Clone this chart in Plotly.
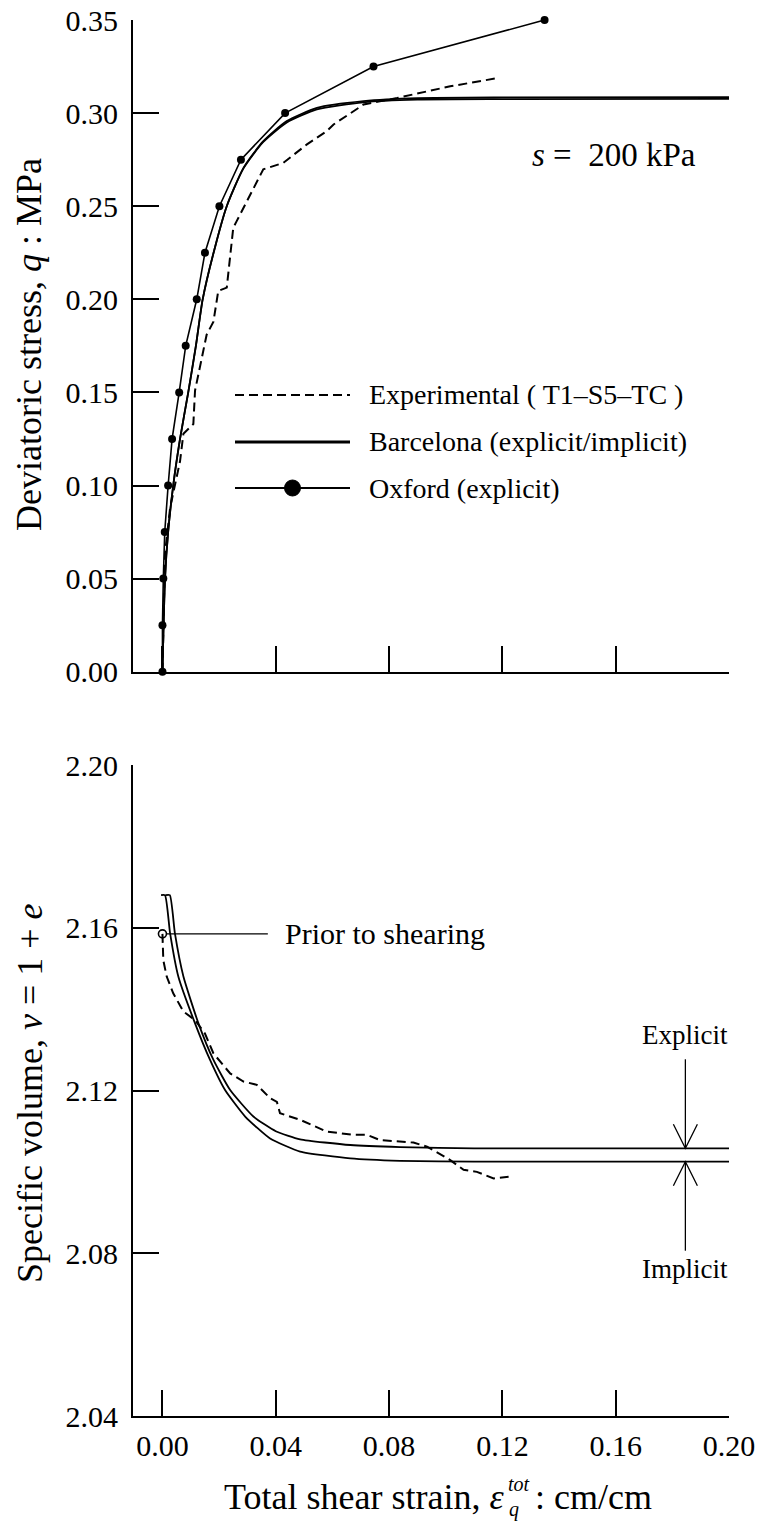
import plotly.graph_objects as go

# ---------------- data ----------------
# Top panel: deviatoric stress q (MPa) vs total shear strain
OX_X = [0.0, 0.0, 0.0003, 0.0008, 0.0020, 0.0034, 0.0059, 0.0082, 0.0121, 0.0150, 0.0201, 0.0277, 0.0433, 0.0745, 0.1349]
OX_Q = [0.0, 0.025, 0.05, 0.075, 0.10, 0.125, 0.15, 0.175, 0.20, 0.225, 0.25, 0.275, 0.30, 0.325, 0.35]

BAR_X = [0.0, 0.0009, 0.0020, 0.0038, 0.0062, 0.0091, 0.0118, 0.0142, 0.0189, 0.0227, 0.0286, 0.0356, 0.0439, 0.0545, 0.0710, 0.0900, 0.1200, 0.2000]
BAR_Q_EXPL = [0.0, 0.05, 0.075, 0.10, 0.125, 0.15, 0.175, 0.20, 0.23, 0.25, 0.2706, 0.2849, 0.2957, 0.3028, 0.3064, 0.3080, 0.3084, 0.3085]
BAR_Q_IMPL = [0.0, 0.05, 0.075, 0.10, 0.125, 0.15, 0.175, 0.20, 0.23, 0.25, 0.2703, 0.2845, 0.2950, 0.3020, 0.3058, 0.3072, 0.3075, 0.3076]

EXP_X = [0.0, 0.0009, 0.0027, 0.0062, 0.0074, 0.0109, 0.0115, 0.0133, 0.0156, 0.0180, 0.0197, 0.0227, 0.0250, 0.0262,
         0.0356, 0.0427, 0.0510, 0.0580, 0.0604, 0.0710, 0.0828, 0.1016, 0.1187]
EXP_Q = [0.0, 0.0636, 0.088, 0.113, 0.1278, 0.133, 0.151, 0.165, 0.181, 0.188, 0.2045, 0.2063, 0.2385, 0.242,
         0.2698, 0.2733, 0.2832, 0.2903, 0.2939, 0.3046, 0.3081, 0.3144, 0.3189]

# Bottom panel: specific volume v vs total shear strain
V_X_EXPL = [0.0011, 0.0026, 0.0044, 0.0074, 0.0127, 0.0180, 0.0239, 0.0321, 0.0400, 0.0486, 0.0663, 0.0839, 0.1100, 0.2000]
V_EXPL = [2.168, 2.168, 2.1586, 2.148, 2.1365, 2.1275, 2.1201, 2.1136, 2.1100, 2.1080, 2.1066, 2.1061, 2.1058, 2.1058]
V_X_IMPL = [-0.0005, 0.0009, 0.0027, 0.0056, 0.0115, 0.0168, 0.0221, 0.0292, 0.0380, 0.0486, 0.0663, 0.0839, 0.1100, 0.2000]
V_IMPL = [2.168, 2.168, 2.1586, 2.148, 2.1365, 2.1275, 2.1201, 2.1136, 2.1082, 2.1050, 2.1033, 2.1027, 2.1025, 2.1025]

V_EXP_X = [0.0, 0.0003, 0.0015, 0.0038, 0.0074, 0.0115, 0.0150, 0.0180, 0.0239, 0.0286, 0.0333, 0.0380, 0.0404,
           0.0415, 0.0486, 0.0580, 0.0674, 0.0722, 0.0769, 0.0886, 0.0934, 0.1016, 0.1063, 0.1110, 0.1169, 0.1222]
V_EXP = [2.1585, 2.152, 2.148, 2.1439, 2.1394, 2.1373, 2.134, 2.1291, 2.1242, 2.1222, 2.1214, 2.1181, 2.1172,
         2.1144, 2.1128, 2.1099, 2.1091, 2.1091, 2.1078, 2.1072, 2.1062, 2.1029, 2.1005, 2.1000, 2.0984, 2.0988]

X_TICKS = [0.00, 0.04, 0.08, 0.12, 0.16, 0.20]
Q_TICKS = [0.00, 0.05, 0.10, 0.15, 0.20, 0.25, 0.30, 0.35]
V_TICKS = [2.04, 2.08, 2.12, 2.16, 2.20]

LEGEND_NAMES = ["Experimental ( T1\u2013S5\u2013TC )", "Barcelona (explicit/implicit)", "Oxford (explicit)"]

# ---------------- layout geometry ----------------
W, H = 759, 1526
ML, MT = 133, 20
MR = W - 729
MB = H - 1416
PW, PH = W - ML - MR, H - MT - MB
X_RANGE = [-0.0104, 0.20]
Q_RANGE = [0.0, 0.35]
V_RANGE = [2.04, 2.20]
TOP_DOM = [(H - MB - 671.7) / PH, 1.0]
BOT_DOM = [0.0, (H - MB - 765) / PH]


def pxx(p):
    """screen x pixel -> paper fraction"""
    return (p - ML) / PW


def pxy(p):
    """screen y pixel -> paper fraction"""
    return (H - MB - p) / PH


XPP = (X_RANGE[1] - X_RANGE[0]) / PW                                 # data x per pixel
VPP = (V_RANGE[1] - V_RANGE[0]) / ((BOT_DOM[1] - BOT_DOM[0]) * PH)  # data v per pixel

SERIF = "Liberation Serif"
BLACK = "black"
DASH = "9px,5px"

fig = go.Figure()

# top panel traces
fig.add_trace(go.Scatter(x=EXP_X, y=EXP_Q, mode="lines", line=dict(color=BLACK, width=2, dash=DASH),
                         name=LEGEND_NAMES[0], xaxis="x", yaxis="y", showlegend=False))
fig.add_trace(go.Scatter(x=BAR_X, y=BAR_Q_EXPL, mode="lines", line=dict(color=BLACK, width=1.8, shape="spline", smoothing=0.6),
                         name="Barcelona (explicit)", xaxis="x", yaxis="y", showlegend=False))
fig.add_trace(go.Scatter(x=BAR_X, y=BAR_Q_IMPL, mode="lines", line=dict(color=BLACK, width=1.8, shape="spline", smoothing=0.6),
                         name="Barcelona (implicit)", xaxis="x", yaxis="y", showlegend=False))
fig.add_trace(go.Scatter(x=OX_X, y=OX_Q, mode="lines+markers", line=dict(color=BLACK, width=1.6),
                         marker=dict(color=BLACK, size=8), cliponaxis=False,
                         name=LEGEND_NAMES[2], xaxis="x", yaxis="y", showlegend=False))

# bottom panel traces
fig.add_trace(go.Scatter(x=V_EXP_X, y=V_EXP, mode="lines", line=dict(color=BLACK, width=2, dash=DASH),
                         name=LEGEND_NAMES[0], xaxis="x2", yaxis="y2", showlegend=False))
fig.add_trace(go.Scatter(x=V_X_EXPL, y=V_EXPL, mode="lines", line=dict(color=BLACK, width=1.8, shape="spline", smoothing=0.5),
                         name="Explicit", xaxis="x2", yaxis="y2", showlegend=False))
fig.add_trace(go.Scatter(x=V_X_IMPL, y=V_IMPL, mode="lines", line=dict(color=BLACK, width=1.8, shape="spline", smoothing=0.5),
                         name="Implicit", xaxis="x2", yaxis="y2", showlegend=False))
fig.add_trace(go.Scatter(x=V_EXP_X[:1], y=V_EXP[:1], mode="markers",
                         marker=dict(symbol="circle-open", size=8, color=BLACK, line=dict(width=1.6)),
                         cliponaxis=False, name="Prior to shearing", xaxis="x2", yaxis="y2", showlegend=False))

axis_common = dict(showline=True, linecolor=BLACK, linewidth=2, ticks="inside", ticklen=26, tickwidth=2,
                   tickcolor=BLACK, showgrid=False, zeroline=False, mirror=False, ticklabeloverflow="allow",
                   tickfont=dict(family=SERIF, size=30, color=BLACK))

shapes = []
annotations = []


def txt(text, x, y, size, xanchor="center", xref="paper", yref="paper", angle=0):
    annotations.append(dict(text=text, xref=xref, yref=yref, x=x, y=y, textangle=angle, showarrow=False,
                            xanchor=xanchor, yanchor="middle", font=dict(family=SERIF, size=size, color=BLACK)))


# ---- axis titles ----
txt("Deviatoric stress, <i>q</i> : MPa", pxx(29), pxy(345), 36, angle=-90)
txt("Specific volume, <i>\u03bd</i> = 1 + <i>e</i>", pxx(30), pxy(1093), 36, angle=-90)
# x title in pieces (stacked sub/superscript)
txt("Total shear strain, <i>\u03b5</i>", pxx(506), pxy(1497), 36, xanchor="right")
txt("<i>tot</i>", pxx(506), pxy(1484), 20, xanchor="left")
txt("<i>q</i>", pxx(507), pxy(1509), 20, xanchor="left")
txt(": cm/cm", pxx(533), pxy(1497), 36, xanchor="left")

# ---- s = 200 kPa ----
txt("<i>s</i> =  200 kPa", pxx(614), pxy(155), 33)

# ---- manual legend ----
LEG_Y = [395, 442, 488]
LEG_X0, LEG_X1, LEG_TX = 235, 350, 367
shapes.append(dict(type="line", xref="paper", yref="paper", x0=pxx(LEG_X0), x1=pxx(LEG_X1),
                   y0=pxy(LEG_Y[0]), y1=pxy(LEG_Y[0]), line=dict(color=BLACK, width=2.2, dash=DASH)))
shapes.append(dict(type="line", xref="paper", yref="paper", x0=pxx(LEG_X0), x1=pxx(LEG_X1),
                   y0=pxy(LEG_Y[1]), y1=pxy(LEG_Y[1]), line=dict(color=BLACK, width=3)))
shapes.append(dict(type="line", xref="paper", yref="paper", x0=pxx(LEG_X0), x1=pxx(LEG_X1),
                   y0=pxy(LEG_Y[2]), y1=pxy(LEG_Y[2]), line=dict(color=BLACK, width=2)))
shapes.append(dict(type="circle", xref="paper", yref="paper", xsizemode="pixel", ysizemode="pixel",
                   xanchor=pxx((LEG_X0 + LEG_X1) / 2), yanchor=pxy(LEG_Y[2]),
                   x0=-8, x1=8, y0=-8, y1=8, fillcolor=BLACK, line=dict(color=BLACK, width=1)))
for name, ly in zip(LEGEND_NAMES, LEG_Y):
    txt(name, pxx(LEG_TX), pxy(ly), 28, xanchor="left")

# ---- Prior to shearing ----
LEADER_END_X = 0.0372
shapes.append(dict(type="line", xref="x2", yref="y2", x0=V_EXP_X[0] + 4 * XPP, x1=LEADER_END_X,
                   y0=V_EXP[0], y1=V_EXP[0], line=dict(color=BLACK, width=1.3)))
txt("Prior to shearing", LEADER_END_X + 15 * XPP, V_EXP[0], 30, xanchor="left", xref="x2", yref="y2")

# ---- Explicit / Implicit arrows ----
ARROW_X = 0.1846
ARM_DX, ARM_DY = 12 * XPP, 24 * VPP
tip_e, tip_i = V_EXPL[-1], V_IMPL[-1]
shapes.append(dict(type="line", xref="x2", yref="y2", x0=ARROW_X, x1=ARROW_X, y0=tip_e, y1=tip_e + 89 * VPP,
                   line=dict(color=BLACK, width=1.3)))
shapes.append(dict(type="path", xref="x2", yref="y2",
                   path=f"M {ARROW_X - ARM_DX},{tip_e + ARM_DY} L {ARROW_X},{tip_e} L {ARROW_X + ARM_DX},{tip_e + ARM_DY}",
                   line=dict(color=BLACK, width=1.3)))
shapes.append(dict(type="line", xref="x2", yref="y2", x0=ARROW_X, x1=ARROW_X, y0=tip_i, y1=tip_i - 89 * VPP,
                   line=dict(color=BLACK, width=1.3)))
shapes.append(dict(type="path", xref="x2", yref="y2",
                   path=f"M {ARROW_X - ARM_DX},{tip_i - ARM_DY} L {ARROW_X},{tip_i} L {ARROW_X + ARM_DX},{tip_i - ARM_DY}",
                   line=dict(color=BLACK, width=1.3)))
txt("Explicit", ARROW_X, tip_e + 113 * VPP, 27, xref="x2", yref="y2")
txt("Implicit", ARROW_X, tip_i - 107 * VPP, 27, xref="x2", yref="y2")

fig.update_layout(
    width=W, height=H, margin=dict(l=ML, r=MR, t=MT, b=MB, autoexpand=False),
    paper_bgcolor="white", plot_bgcolor="white", showlegend=False,
    xaxis=dict(domain=[0, 1], anchor="y", range=X_RANGE, tickvals=X_TICKS, showticklabels=False, **axis_common),
    yaxis=dict(domain=TOP_DOM, anchor="x", range=Q_RANGE, tickvals=Q_TICKS, tickformat=".2f",
               ticklabelstandoff=7, **axis_common),
    xaxis2=dict(domain=[0, 1], anchor="y2", range=X_RANGE, tickvals=X_TICKS, tickformat=".2f",
                ticklabelstandoff=2, **axis_common),
    yaxis2=dict(domain=BOT_DOM, anchor="x2", range=V_RANGE, tickvals=V_TICKS, tickformat=".2f",
                ticklabelstandoff=7, **axis_common),
    shapes=shapes, annotations=annotations,
)

# remove the browser's default 8px body margin so the 759x1526 figure fills the window exactly
fig.write_html("out.html", config={"displayModeBar": False},
               post_script="document.body.style.margin='0';document.body.style.overflow='hidden';")
